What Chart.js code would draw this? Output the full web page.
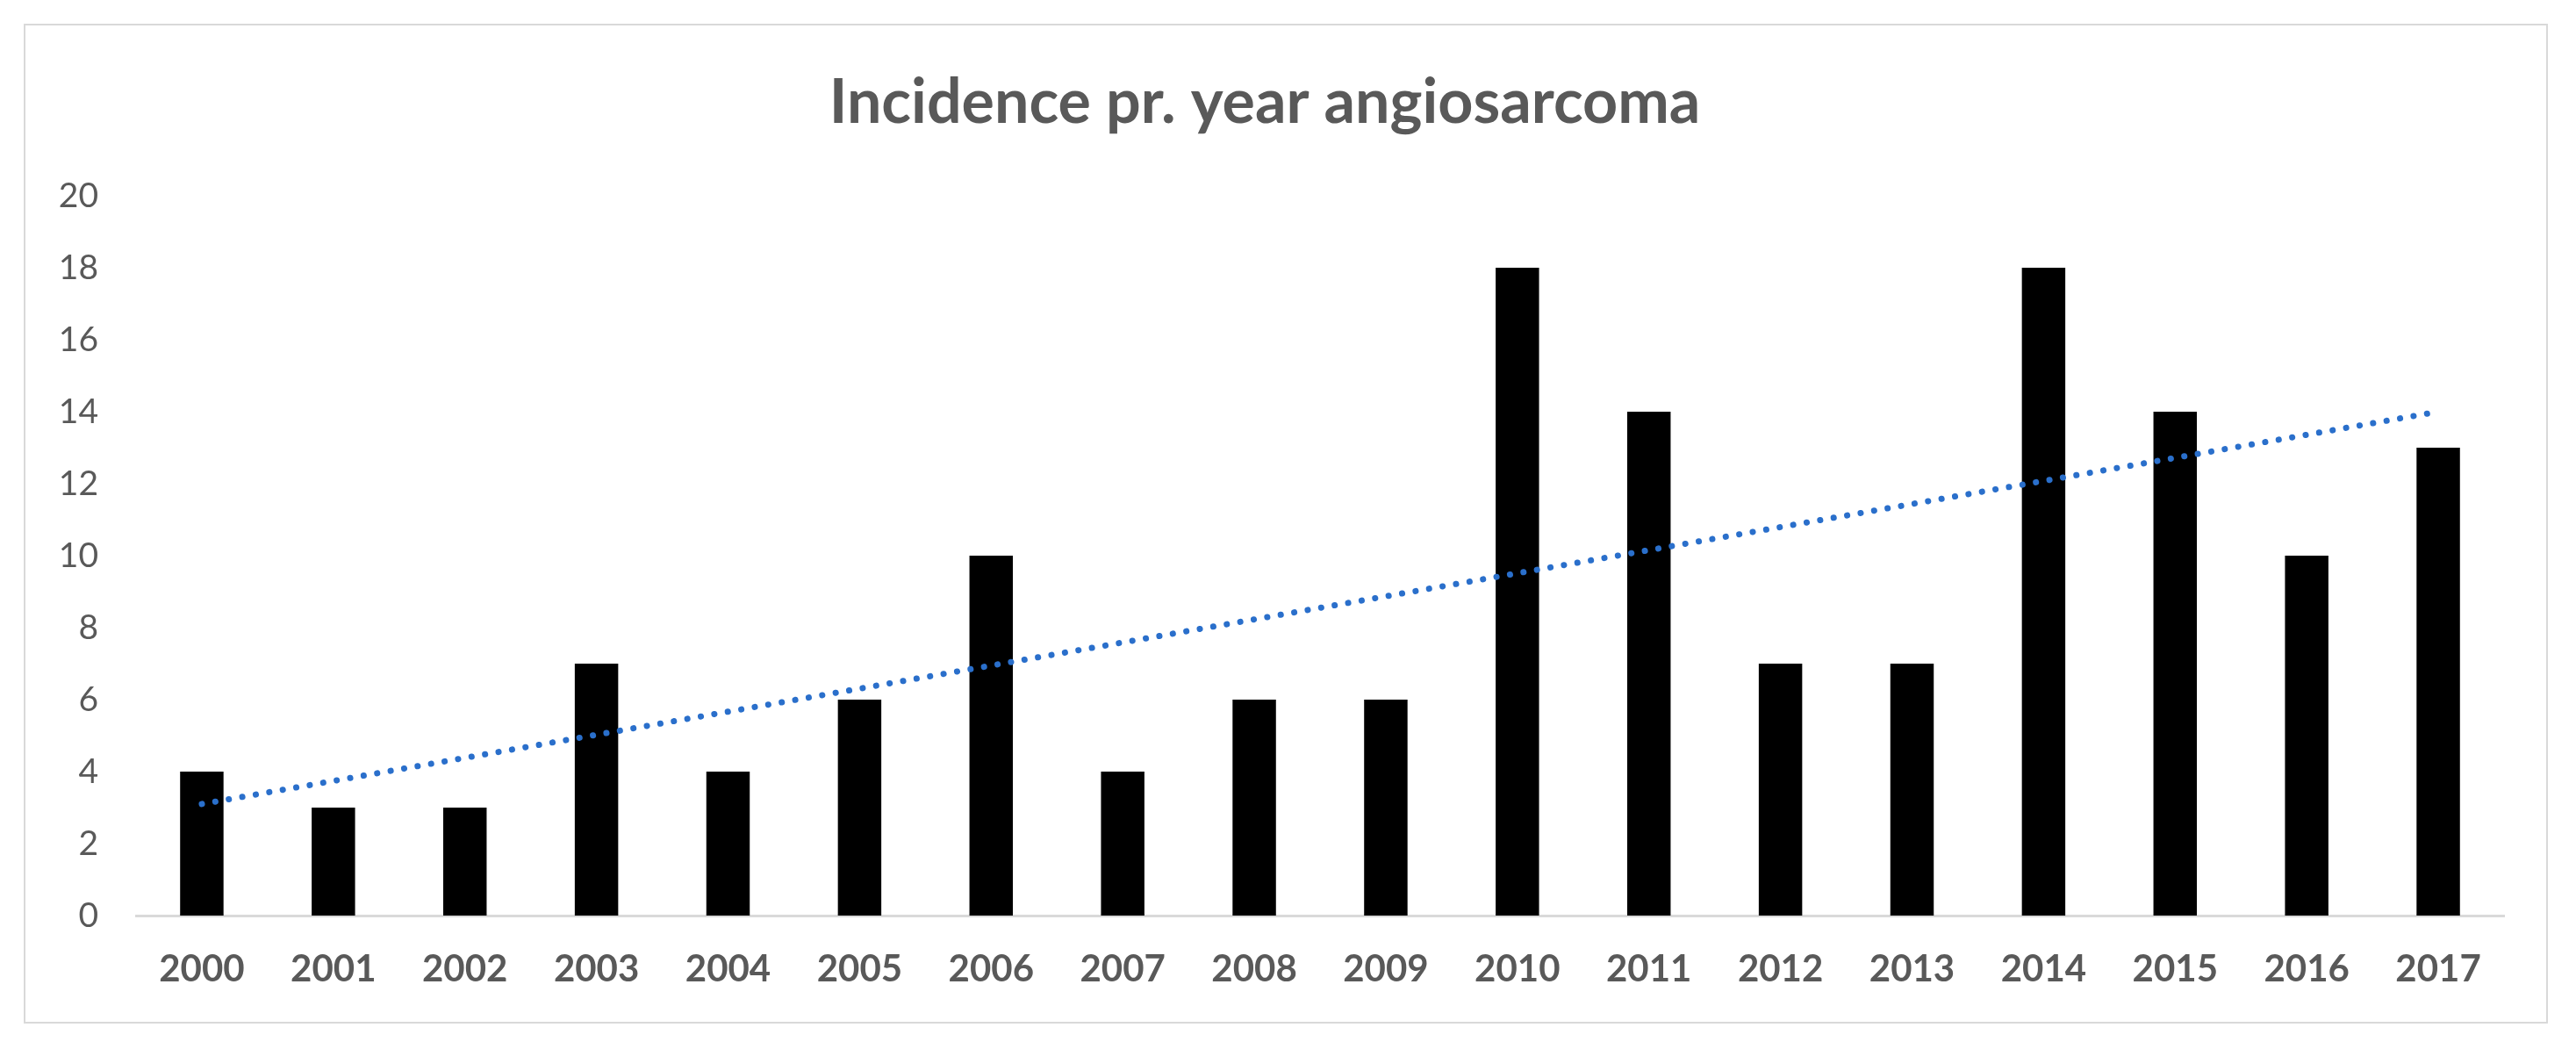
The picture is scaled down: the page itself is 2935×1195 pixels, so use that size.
<!DOCTYPE html>
<html>
<head>
<meta charset="utf-8">
<title>Incidence pr. year angiosarcoma</title>
<script src="https://cdn.jsdelivr.net/npm/chart.js@4/dist/chart.umd.min.js"></script>
<style>
  html, body { margin: 0; padding: 0; background: #fff; }
  #frame {
    position: absolute;
    left: 27px; top: 27px;
    width: 2872px; height: 1135px;
    border: 2px solid #d9d9d9;
  }
  #chart { display: block; }
</style>
</head>
<body>
<div id="frame"><canvas id="chart" width="2872" height="1135"></canvas></div>
<script>
  const years = ['2000', '2001', '2002', '2003', '2004', '2005', '2006', '2007', '2008',
                 '2009', '2010', '2011', '2012', '2013', '2014', '2015', '2016', '2017'];
  const incidence = [4, 3, 3, 7, 4, 6, 10, 4, 6, 6, 18, 14, 7, 7, 18, 14, 10, 13];
  // trend line: start at 2000, end at 2017
  const trendStart = 3.1;
  const trendEnd = 14.0;
  const yTicks = [0, 2, 4, 6, 8, 10, 12, 14, 16, 18, 20];

  const textGray = '#595959';
  const fontName = 'Lato, "Open Sans", sans-serif';

  const trend = years.map((y, i) => {
    if (i === 0) return trendStart;
    if (i === years.length - 1) return trendEnd;
    return null;
  });

  const ctx = document.getElementById('chart').getContext('2d');
  new Chart(ctx, {
    data: {
      labels: years,
      datasets: [
        {
          type: 'line',
          label: 'Trend',
          data: trend,
          spanGaps: true,
          borderColor: '#2a6fcb',
          borderWidth: 7,
          borderDash: [0.1, 15.5],
          borderCapStyle: 'round',
          pointRadius: 0,
          fill: false,
          order: 0
        },
        {
          type: 'bar',
          label: 'Incidence',
          data: incidence,
          backgroundColor: '#000000',
          categoryPercentage: 1,
          barPercentage: 0.33,
          order: 1
        }
      ]
    },
    options: {
      responsive: false,
      animation: false,
      layout: { padding: { left: 0, right: 48, top: 0, bottom: 0 } },
      plugins: {
        legend: { display: false },
        tooltip: { enabled: false },
        title: {
          display: true,
          text: 'Incidence pr. year angiosarcoma',
          color: textGray,
          font: { family: fontName, size: 70, weight: 'bold' },
          padding: { top: 46, bottom: 64 }
        }
      },
      scales: {
        x: {
          grid: { display: false, drawTicks: false },
          border: { display: true, color: '#d9d9d9', width: 3 },
          ticks: {
            color: textGray,
            font: { family: fontName, size: 42, weight: 'bold' },
            padding: 36,
            maxRotation: 0,
            autoSkip: false
          },
          afterFit: scale => { scale.height = 121; }
        },
        y: {
          min: 0,
          max: 20,
          grid: { display: false, drawTicks: false },
          border: { display: false },
          afterBuildTicks: scale => { scale.ticks = yTicks.map(v => ({ value: v })); },
          ticks: {
            color: textGray,
            font: { family: fontName, size: 39 },
            padding: 43
          },
          afterFit: scale => { scale.width = 126; }
        }
      }
    }
  });
</script>
</body>
</html>
